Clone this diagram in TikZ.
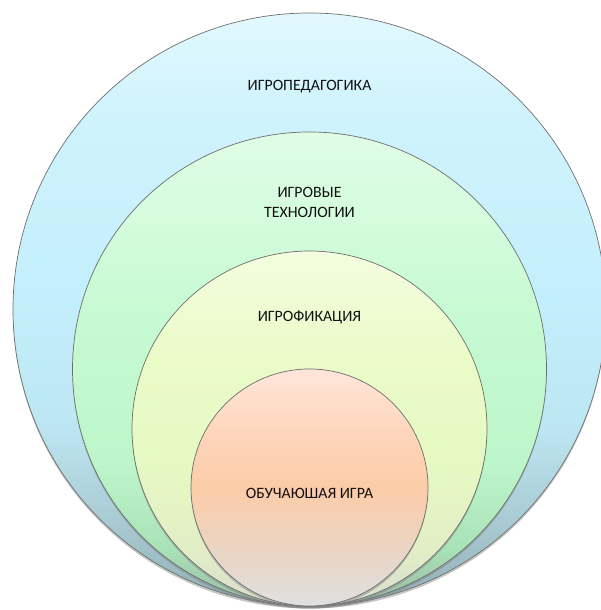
\documentclass[tikz,border=0pt]{standalone}
\usepackage{fontspec}
\setmainfont{Carlito}
\usetikzlibrary{shadows}
\definecolor{edge}{HTML}{6E6E6E}
\definecolor{txt}{HTML}{111111}
\definecolor{bA}{HTML}{8FAEB6}\definecolor{bB}{HTML}{A6C6CE}\definecolor{bC}{HTML}{BCE6F2}
\definecolor{bD}{HTML}{C4EFFC}\definecolor{bE}{HTML}{CFF3FD}\definecolor{bF}{HTML}{E2F8FE}
\definecolor{gA}{HTML}{9CB8A6}\definecolor{gB}{HTML}{A8E2B6}\definecolor{gC}{HTML}{BDF6CA}
\definecolor{gD}{HTML}{C6FAD2}\definecolor{gF}{HTML}{E0FDE6}
\definecolor{yA}{HTML}{D8DCCC}\definecolor{yB}{HTML}{E2EEC6}\definecolor{yC}{HTML}{E6F9C2}
\definecolor{yD}{HTML}{EAFBC8}\definecolor{yF}{HTML}{F3FDDF}
\definecolor{pA}{HTML}{E0E0E0}\definecolor{pB}{HTML}{E8D6C8}\definecolor{pC}{HTML}{FCCCA8}
\definecolor{pD}{HTML}{FED6BC}\definecolor{pF}{HTML}{FFE6DA}
\pgfdeclareverticalshading{blueshade}{100bp}{
  color(0bp)=(bA); color(25bp)=(bA); color(31bp)=(bB);
  color(40bp)=(bC); color(52bp)=(bD); color(66bp)=(bE);
  color(75bp)=(bF); color(100bp)=(bF)}
\pgfdeclareverticalshading{greenshade}{100bp}{
  color(0bp)=(gA); color(25bp)=(gA); color(31bp)=(gB);
  color(40bp)=(gC); color(55bp)=(gD); color(75bp)=(gF); color(100bp)=(gF)}
\pgfdeclareverticalshading{yellowshade}{100bp}{
  color(0bp)=(yA); color(25bp)=(yA); color(33bp)=(yB);
  color(45bp)=(yC); color(60bp)=(yD); color(75bp)=(yF); color(100bp)=(yF)}
\pgfdeclareverticalshading{peachshade}{100bp}{
  color(0bp)=(pA); color(25bp)=(pA); color(35bp)=(pB);
  color(50bp)=(pC); color(62bp)=(pD); color(75bp)=(pF); color(100bp)=(pF)}
\tikzset{
  ring/.style={circle, inner sep=0pt, draw=edge, line width=0.7pt,
    drop shadow={opacity=0.45, shadow xshift=0pt, shadow yshift=-2.5pt}},
  lbl/.style={font=\fontsize{15.8}{19.5}\selectfont, text=txt, align=center}
}
\begin{document}
\begin{tikzpicture}[x=1pt,y=1pt]
\useasboundingbox (0,0) rectangle (600,610);
\node[ring, minimum size=593pt, shading=blueshade] (c1) at (309.5,300.5) {};
\node[ring, minimum size=474pt, shading=greenshade] (c2) at (309.5,241) {};
\node[ring, minimum size=355pt, shading=yellowshade] (c3) at (309.5,181.5) {};
\node[ring, minimum size=237pt, shading=peachshade] (c4) at (309.5,122.5) {};
\node[lbl] (t1) at (309.5,523) {ИГРОПЕДАГОГИКА};
\node[lbl] (t2) at (309.5,407.5) {ИГРОВЫЕ\\ТЕХНОЛОГИИ};
\node[lbl] (t3) at (309.5,293) {ИГРОФИКАЦИЯ};
\node[lbl] (t4) at (309.5,117) {ОБУЧАЮШАЯ ИГРА};
\end{tikzpicture}
\end{document}
